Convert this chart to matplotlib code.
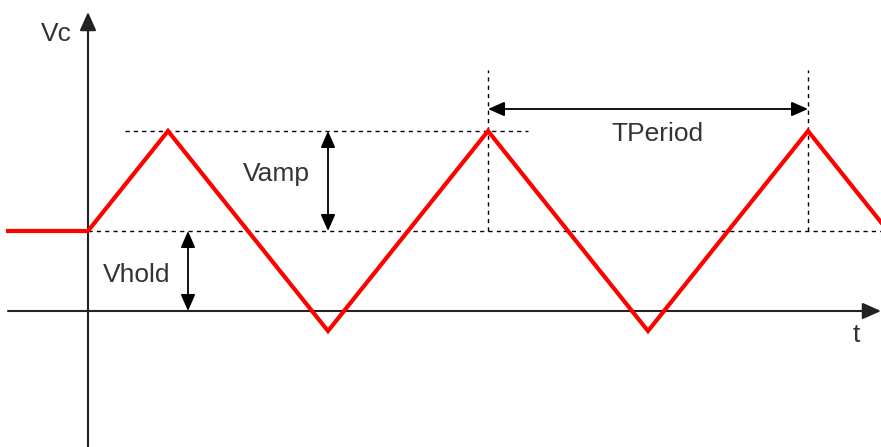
import numpy as np
from matplotlib import pyplot as plt

plt.rcParams['font.family'] = ['Liberation Sans', 'DejaVu Sans']

# diagram values (t in arbitrary time units, v in arbitrary volts)
v_hold = 0.8
v_amp = 1.0
period = 4.0
t_vertices = [-1.0, 0.0, 1.0, 3.0, 5.0, 7.0, 9.0, 9.9125]
v_vertices = [0.8, 0.8, 1.8, -0.2, 1.8, -0.2, 1.8, 0.8875]

# label texts
labels = {'vc': 'Vc', 't': 't', 'vamp': 'Vamp', 'vhold': 'Vhold', 'tperiod': 'TPeriod'}

# px per unit: 80 px per t, 100 px per v; origin at pixel (88, 311)
fig = plt.figure(figsize=(8.81, 4.47), dpi=100)
ax = fig.add_axes([0, 0, 1, 1])
ax.set_xlim(-1.1, 9.9125)
ax.set_ylim(-1.36, 3.11)
ax.axis('off')

axis_col = '#222222'
txt_col = '#333333'
dash = (0, (3, 3))

# axes with arrows
ax.annotate('', xy=(0, 2.99), xytext=(0, -1.36),
            arrowprops=dict(arrowstyle='-|>,head_length=0.45,head_width=0.2', mutation_scale=25,
                            lw=1.5, color=axis_col, shrinkA=0, shrinkB=0))
ax.annotate('', xy=(9.9125, 0), xytext=(-1.0, 0),
            arrowprops=dict(arrowstyle='-|>,head_length=0.45,head_width=0.2', mutation_scale=25,
                            lw=1.5, color=axis_col, shrinkA=0, shrinkB=0))

# dashed guides
ax.plot([0, 9.9125], [v_hold, v_hold], color='black', lw=1.0, linestyle=dash)
ax.plot([0.46, 5.5], [v_hold + v_amp, v_hold + v_amp], color='black', lw=1.0, linestyle=dash)
for tp in [5.0, 5.0 + period]:
    ax.plot([tp, tp], [v_hold, 2.41], color='black', lw=1.0, linestyle=dash)

# dimension arrows
dbl = dict(arrowstyle='<|-|>,head_length=0.5,head_width=0.22', mutation_scale=20,
           lw=1.3, color='black', shrinkA=0, shrinkB=0)
ax.annotate('', xy=(1.25, 0), xytext=(1.25, v_hold), arrowprops=dbl)
ax.annotate('', xy=(3.0, v_hold), xytext=(3.0, v_hold + v_amp), arrowprops=dbl)
ax.annotate('', xy=(5.0, 2.02), xytext=(5.0 + period, 2.02), arrowprops=dbl)

# triangle waveform
ax.plot(t_vertices, v_vertices, color='#ff0000', lw=3, solid_joinstyle='miter', zorder=5)

fs = 19
ax.text(-0.39, 2.70, labels['vc'], fontsize=fs, color=txt_col, ha='center', va='baseline')
ax.text(9.6, -0.31, labels['t'], fontsize=fs, color=txt_col, ha='center', va='baseline')
ax.text(2.36, 1.30, labels['vamp'], fontsize=fs, color=txt_col, ha='center', va='baseline')
ax.text(0.61, 0.29, labels['vhold'], fontsize=fs, color=txt_col, ha='center', va='baseline')
ax.text(7.12, 1.70, labels['tperiod'], fontsize=fs, color=txt_col, ha='center', va='baseline')

fig.savefig('out.png', dpi=100)
